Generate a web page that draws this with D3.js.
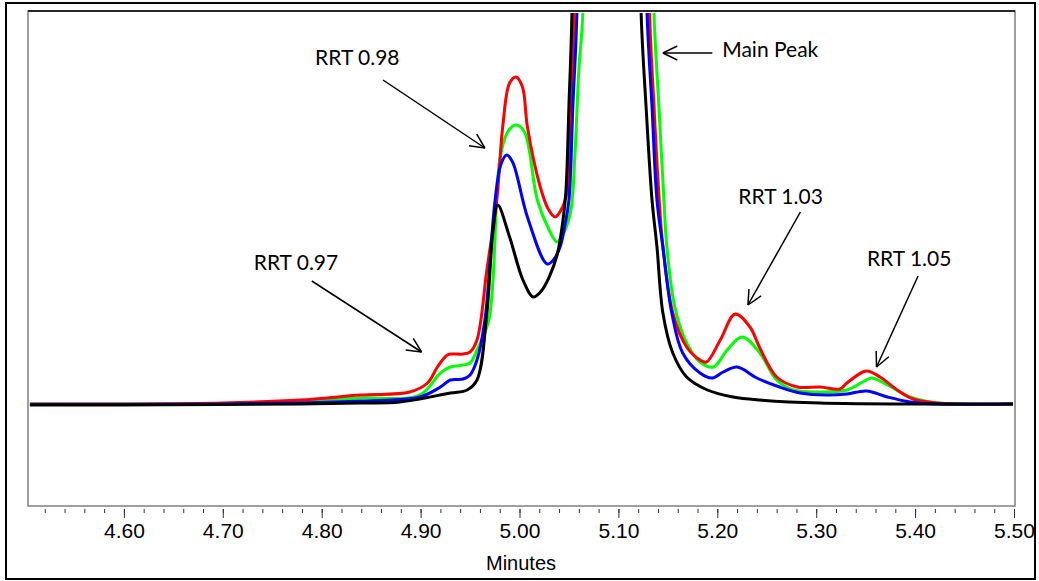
<!DOCTYPE html>
<html>
<head>
<meta charset="utf-8">
<script src="https://cdn.jsdelivr.net/npm/d3@7"></script>
<style>
  body { margin: 0; background: #fff; }
  svg { display: block; }
  .tick text { font-family: "Liberation Sans", Arial, sans-serif; font-size: 21px; fill: #000; }
  .tick line { stroke: #333; }
  .note { font-family: Lato, "Open Sans", sans-serif; font-size: 21px; fill: #000; }
</style>
</head>
<body>
<svg id="chart" width="1039" height="581"></svg>
<script>
// traces: [minutes, response]
var greenTrace = [[4.505,1],[4.600,1],[4.700,1.5],[4.778,4],[4.839,7],[4.899,10],[4.920,32],[4.930,38],[4.943,40],[4.950,42],[4.957,55],[4.969,85],[4.980,245],[4.988,273],[4.9965,280],[5.005,273],[5.018,205],[5.029,177],[5.038,163],[5.046,175],[5.052,195],[5.056,250],[5.060,335],[5.064,391],[5.067,700],[5.092,3000],[5.133,600],[5.136,391],[5.141,298],[5.146,205],[5.149,158],[5.157,98],[5.169,62],[5.1825,43],[5.196,38],[5.210,55],[5.225,68],[5.243,52],[5.260,25],[5.277,15],[5.304,13],[5.331,15],[5.347,23],[5.356,27],[5.372,20],[5.395,8],[5.422,2],[5.499,1]];
var redTrace = [[4.505,1],[4.600,1],[4.700,2],[4.778,5],[4.839,10],[4.889,13],[4.907,22],[4.917,38],[4.927,50],[4.933,51],[4.943,51],[4.950,53],[4.957,65],[4.967,135],[4.977,205],[4.983,278],[4.990,322],[4.9965,328],[5.003,318],[5.008,278],[5.021,218],[5.029,196],[5.036,188],[5.042,195],[5.048,212],[5.052,290],[5.055,391],[5.058,700],[5.092,3000],[5.129,600],[5.1315,391],[5.136,298],[5.140,225],[5.145,158],[5.155,92],[5.169,58],[5.1825,45],[5.189,43],[5.203,65],[5.218,91],[5.233,78],[5.243,57],[5.260,28],[5.281,18],[5.304,18],[5.324,16],[5.331,22],[5.347,33],[5.352,34],[5.3645,28],[5.382,15],[5.398,6],[5.422,2],[5.499,1]];
var blueTrace = [[4.505,0.5],[4.600,0.5],[4.700,1],[4.778,2],[4.839,4],[4.899,8],[4.920,18],[4.930,25],[4.943,26],[4.950,30],[4.957,45],[4.965,85],[4.975,202],[4.981,240],[4.987,250],[4.993,243],[5.008,188],[5.028,141],[5.035,146],[5.041,158],[5.046,180],[5.050,205],[5.054,300],[5.058,391],[5.061,700],[5.092,3000],[5.126,600],[5.129,391],[5.134,298],[5.139,205],[5.145,158],[5.154,92],[5.165,52],[5.1825,32],[5.195,27],[5.206,33],[5.220,38],[5.240,27],[5.263,18],[5.284,12],[5.311,10],[5.331,11],[5.351,14],[5.372,8],[5.395,3],[5.422,1],[5.499,1]];
var blackTrace = [[4.505,0],[4.600,0],[4.700,0.5],[4.778,1],[4.839,2],[4.879,3],[4.930,12],[4.947,15],[4.957,25],[4.967,92],[4.973,172],[4.978,200],[4.990,168],[5.0035,125],[5.014,108],[5.022,114],[5.030,128],[5.038,150],[5.044,185],[5.047,215],[5.050,300],[5.053,391],[5.056,700],[5.090,3000],[5.120,600],[5.123,391],[5.128,298],[5.134,205],[5.139,158],[5.145,92],[5.155,52],[5.169,28],[5.190,15],[5.216,8],[5.243,5],[5.304,2],[5.499,1]];

var traces = [
  {name: "green", color: "#00ff00", values: greenTrace},
  {name: "red", color: "#ff0000", values: redTrace},
  {name: "blue", color: "#0000ff", values: blueTrace},
  {name: "black", color: "#000000", values: blackTrace}
];

var minorTicks = d3.range(4.52, 5.5001, 0.02);
var majorTicks = [4.60, 4.70, 4.80, 4.90, 5.00, 5.10, 5.20, 5.30, 5.40, 5.50];

// arrows: text position, arrow tail, arrow tip (minutes, response)
var notes = [
  {label: "RRT 0.97", tx: 4.774, ty: 142, anchor: "middle", x1: 4.790, y1: 124, x2: 4.901, y2: 53},
  {label: "RRT 0.98", tx: 4.836, ty: 347, anchor: "middle", x1: 4.862, y1: 325, x2: 4.965, y2: 257},
  {label: "Main Peak", tx: 5.205, ty: 355, anchor: "start", x1: 5.195, y1: 352, x2: 5.145, y2: 352},
  {label: "RRT 1.03", tx: 5.264, ty: 208, anchor: "middle", x1: 5.284, y1: 193, x2: 5.231, y2: 100},
  {label: "RRT 1.05", tx: 5.394, ty: 146, anchor: "middle", x1: 5.403, y1: 129, x2: 5.361, y2: 38}
];

var svg = d3.select("#chart");
var box = {left: 28, top: 11, right: 1015, bottom: 506};

var x = d3.scaleLinear().domain([4.50, 5.50]).range([25, 1014]);
var y = d3.scaleLinear().domain([-101, 394]).range([506, 11]);

// outer frame
svg.append("rect")
    .attr("x", 6).attr("y", 3).attr("width", 1029).attr("height", 576)
    .attr("fill", "none").attr("stroke", "#000").attr("stroke-width", 2);

svg.append("clipPath").attr("id", "plotclip")
  .append("rect")
    .attr("x", box.left).attr("y", box.top + 2)
    .attr("width", box.right - box.left).attr("height", box.bottom - box.top - 2);

// plot box: grey sides, black top
svg.append("rect")
    .attr("x", box.left).attr("y", box.top)
    .attr("width", box.right - box.left).attr("height", box.bottom - box.top)
    .attr("fill", "none").attr("stroke", "#808080").attr("stroke-width", 1.5);
svg.append("line")
    .attr("x1", box.left).attr("x2", box.right)
    .attr("y1", box.top).attr("y2", box.top)
    .attr("stroke", "#000").attr("stroke-width", 1.5);

var line = d3.line()
    .x(function(d){ return x(d[0]); })
    .y(function(d){ return y(d[1]); })
    .curve(d3.curveCatmullRom.alpha(0.5));

svg.append("g").attr("clip-path", "url(#plotclip)")
  .selectAll("path")
  .data(traces).enter()
  .append("path")
    .attr("d", function(d){ return line(d.values); })
    .attr("fill", "none")
    .attr("stroke", function(d){ return d.color; })
    .attr("stroke-width", 3)
    .attr("stroke-linejoin", "round");

// axis: minor and major ticks, no axis line
var minorAxis = svg.append("g")
    .attr("transform", "translate(0,509)")
    .call(d3.axisBottom(x).tickValues(minorTicks).tickSize(4).tickFormat(""));
minorAxis.select(".domain").remove();

var majorAxis = svg.append("g")
    .attr("transform", "translate(0,509)")
    .call(d3.axisBottom(x).tickValues(majorTicks).tickSize(9).tickPadding(5)
        .tickFormat(function(d){ return d.toFixed(2); }));
majorAxis.select(".domain").remove();

svg.append("text")
    .attr("x", 521).attr("y", 570)
    .attr("text-anchor", "middle")
    .attr("font-family", "Liberation Sans, Arial, sans-serif")
    .attr("font-size", 20)
    .text("Minutes");

// annotations
var ann = svg.append("g");
notes.forEach(function(n){
    ann.append("text")
        .attr("class", "note")
        .attr("x", x(n.tx)).attr("y", y(n.ty))
        .attr("dy", "0.35em")
        .attr("text-anchor", n.anchor)
        .text(n.label);
    var ax = x(n.x1), ay = y(n.y1), bx = x(n.x2), by = y(n.y2);
    ann.append("line")
        .attr("x1", ax).attr("y1", ay).attr("x2", bx).attr("y2", by)
        .attr("stroke", "#000").attr("stroke-width", 1.5);
    var ang = Math.atan2(by - ay, bx - ax);
    [-0.45, 0.45].forEach(function(da){
        ann.append("line")
            .attr("x1", bx).attr("y1", by)
            .attr("x2", bx - 16 * Math.cos(ang + da))
            .attr("y2", by - 16 * Math.sin(ang + da))
            .attr("stroke", "#000").attr("stroke-width", 1.5);
    });
});
</script>
</body>
</html>
